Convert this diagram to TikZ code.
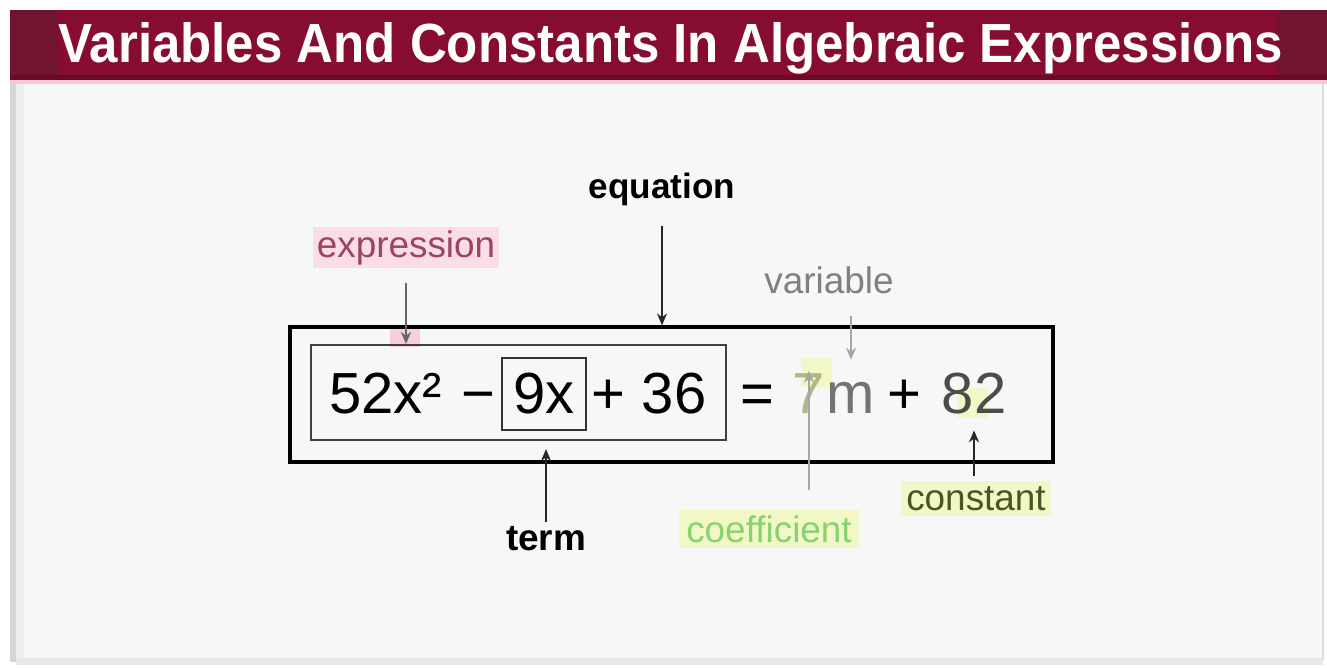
\documentclass[tikz,border=0pt]{standalone}
\usepackage{fontspec}
\setmainfont{Liberation Sans}
\usetikzlibrary{arrows.meta, positioning}
\definecolor{barred}{HTML}{860C30}
\definecolor{bardark}{HTML}{70142F}
\definecolor{barline}{HTML}{6A0A26}
\definecolor{barpink}{HTML}{F7C9D6}
\definecolor{pagebg}{HTML}{F6F7F7}
\definecolor{pinkhl}{HTML}{F6CFDB}
\definecolor{exprfill}{HTML}{FADDE6}
\definecolor{exprtext}{HTML}{9C4560}
\definecolor{yellowhl}{HTML}{F1F7C6}
\definecolor{coeftext}{HTML}{86D46E}
\definecolor{consttext}{HTML}{4D5424}
\definecolor{coefgrey}{HTML}{B5B58A}
\tikzset{
  titletext/.style={anchor=base, inner sep=0pt, font=\bfseries},
  eqtext/.style={anchor=base, inner sep=0pt, font=\fontsize{33}{36}\selectfont, text height=0.84cm, text depth=0.2cm},
  termbox/.style={draw=black!80, line width=1.2pt, text height=1.1cm, text depth=0.34cm, minimum width=1.68cm},
  outerbox/.style={draw, line width=1.8pt, inner sep=0pt},
  exprbox/.style={draw=black!75, line width=1.2pt, inner sep=0pt},
  hl/.style={inner sep=0pt, draw=none},
  tag/.style={anchor=base, inner sep=0pt, font=\fontsize{21}{25}\selectfont},
  link/.style={-{Stealth[length=2.4mm, width=2mm]}, line width=1.1pt, draw=black!85},
  greylink/.style={link, draw=black!35, line width=1.2pt}
}
\newcommand{\titlestring}{\resizebox{24.5cm}{0.8cm}{Variables And Constants In Algebraic Expressions}}

\begin{document}
\begin{tikzpicture}[x=0.02cm, y=-0.02cm]
  \useasboundingbox (0,0) rectangle (1327,667);

  % page and title bar
  \fill[white] (0,0) rectangle (1327,667);
  \fill[pagebg] (10,84) rectangle (1323,658);
  \fill[black!16] (10,84) rectangle (16,662);
  \fill[black!7] (16,84) rectangle (24,658);
  \fill[black!9] (16,658) rectangle (1323,665);
  \draw[black!14, line width=1pt] (1323,84) -- (1323,660);
  \fill[barred] (10,10) rectangle (1327,75);
  \fill[bardark] (10,10) rectangle (58,75);
  \fill[bardark] (1277,10) rectangle (1327,75);
  \fill[barline] (10,75) rectangle (1327,80);
  \fill[barpink] (10,80) rectangle (1327,84);
  \node[titletext, text=white] (title) at (671,62) {\titlestring};

  % highlight marks
  \node[hl, fill=pinkhl, minimum width=0.6cm, minimum height=0.44cm] (hlexpr) at (405,336) {};
  \node[hl, fill=yellowhl, minimum width=0.62cm, minimum height=0.58cm] (hlcoef) at (816,372) {};
  \node[hl, fill=yellowhl, minimum width=0.62cm, minimum height=0.6cm] (hlconst) at (972,403) {};

  % boxes
  \node[outerbox, minimum width=15.26cm, minimum height=2.7cm] (outer) at (671.5,394.5) {};
  \node[exprbox, minimum width=8.3cm, minimum height=1.9cm] (expr) at (518.5,392.5) {};

  % the equation
  \node[eqtext, anchor=base west] (square) at (329,413) {52x²};
  \node[eqtext] (minus) at (478,413) {−};
  \node[eqtext, termbox] (termbox) at (544,413) {9x};
  \node[eqtext] (plusa) at (608,413) {+};
  \node[eqtext] (num36) at (674,413) {36};
  \node[eqtext] (equals) at (757,413) {=};
  \node[eqtext, text=coefgrey] (coef) at (809,413) {7};
  \node[eqtext, text=black!55] (var) at (851,413) {m};
  \node[eqtext] (plusb) at (904,413) {+};
  \node[eqtext, text=black!70] (const) at (974,413) {82};

  % labels
  \node[tag, font=\fontsize{20}{24}\selectfont\bfseries] (equation) at (662,198) {equation};
  \node[tag, text=exprtext, fill=exprfill, inner sep=2pt] (expression) at (406,257) {expression};
  \node[tag, text=black!50] (variable) at (829,293) {variable};
  \node[tag, font=\fontsize{21}{25}\selectfont\bfseries] (term) at (546,550) {term};
  \node[tag, text=coeftext, fill=yellowhl, inner xsep=4pt, inner ysep=3pt] (coefficient) at (769,542) {coefficient};
  \node[tag, text=consttext, fill=yellowhl, inner xsep=3pt, inner ysep=3pt] (constant) at (976,510) {constant};

  % connectors
  \draw[link, shorten <=0.4cm] (equation.south) -- (equation.south |- outer.north);
  \draw[link, draw=black!60, shorten <=0.28cm] (expression.south) -- (expression.south |- expr.north);
  \draw[greylink, shorten <=0.44cm, shorten >=0.22cm] (variable.south -| var) -- (var.north);
  \draw[link, shorten <=0.08cm, shorten >=0.16cm] (term.north) -- (term.north |- expr.south);
  \draw[greylink, shorten <=0.4cm] (coefficient.north -| coef) -- (coef.north);
  \draw[link, shorten <=0.1cm, shorten >=0.14cm] (constant.north -| const) -- (const.south);
\end{tikzpicture}
\end{document}
